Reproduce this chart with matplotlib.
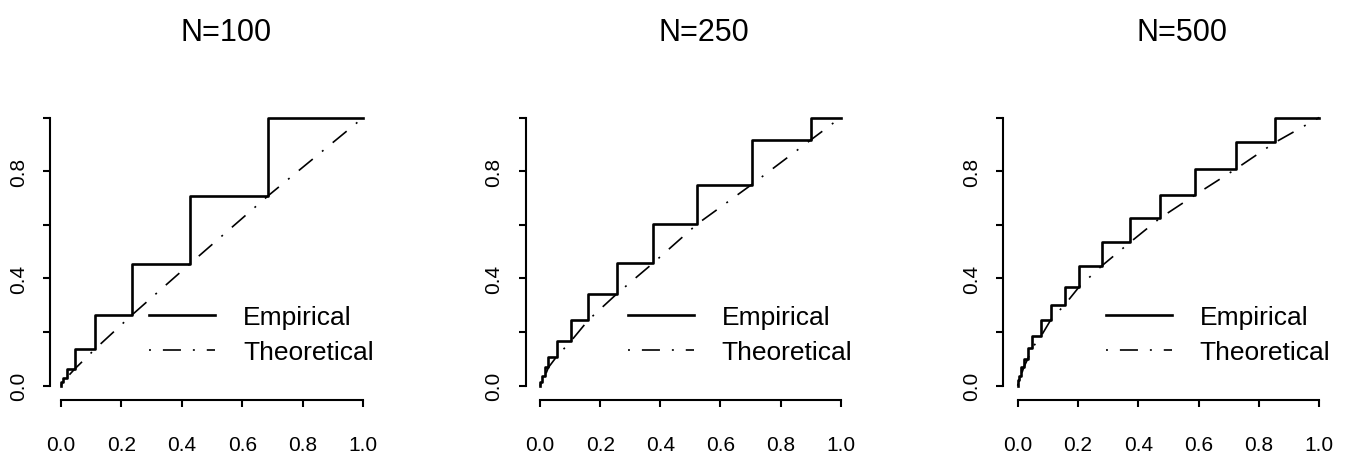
import matplotlib
matplotlib.use('Agg')
import matplotlib.pyplot as plt
import matplotlib.transforms as mtransforms

# data: corner points of the empirical step curve (x at jump, level just before it)
titles = ['N=100', 'N=250', 'N=500']

x100 = [0, 0.006, 0.019, 0.045, 0.113, 0.235, 0.427, 0.686, 1.0]
y100 = [0, 0.012, 0.030, 0.062, 0.137, 0.264, 0.455, 0.709, 1.0]

x250 = [0, 0.008, 0.017, 0.028, 0.055, 0.102, 0.161, 0.255, 0.375, 0.523, 0.704, 0.900, 1.0]
y250 = [0, 0.015, 0.037, 0.068, 0.108, 0.165, 0.245, 0.342, 0.456, 0.603, 0.750, 0.916, 1.0]

x500 = [0, 0.003, 0.011, 0.020, 0.033, 0.047, 0.077, 0.110, 0.156, 0.204, 0.279,
        0.373, 0.472, 0.588, 0.723, 0.853, 1.0]
y500 = [0, 0.020, 0.037, 0.068, 0.099, 0.139, 0.184, 0.246, 0.302, 0.369, 0.447,
        0.535, 0.625, 0.711, 0.808, 0.907, 1.0]

xs = [x100, x250, x500]
ys = [y100, y250, y500]

tick_vals = [0.0, 0.2, 0.4, 0.6, 0.8, 1.0]
xtick_labels = ['0.0', '0.2', '0.4', '0.6', '0.8', '1.0']
ytick_labels = ['0.0', '', '0.4', '', '0.8', '']

# styling
plt.rcParams['lines.scale_dashes'] = False
font = ['Liberation Sans', 'DejaVu Sans']

W, H = 1350, 460
fig = plt.figure(figsize=(W / 100, H / 100), dpi=100)

# pixel layout of each panel: x=0, x=1, y-axis line
px_layout = [(61, 363.3, 50), (540, 840.7, 525.7), (1017.7, 1319.3, 1003.3)]
y0_px, y1_px = 386.7, 118.5
xaxis_px = 401.0
yunit = y0_px - y1_px
ybot = -(xaxis_px - y0_px) / yunit
ytop = 1.04

dashdot = (0, (1.4, 8.6, 13, 8.6))

for i in range(3):
    x0, x1, yax = px_layout[i]
    xunit = x1 - x0
    right = x1 + 0.04 * xunit
    top_px = y0_px - ytop * yunit
    ax = fig.add_axes([yax / W, (H - xaxis_px) / H,
                       (right - yax) / W, (xaxis_px - top_px) / H])
    ax.set_xlim((yax - x0) / xunit, 1.04)
    ax.set_ylim(ybot, ytop)

    emp, = ax.step(xs[i], ys[i], where='pre', color='black', lw=1.9,
                   clip_on=False, label='Empirical')
    theo, = ax.plot(xs[i], ys[i], color='black', lw=1.2, linestyle=dashdot,
                    clip_on=False, label='Theoretical')

    for s in ['top', 'right']:
        ax.spines[s].set_visible(False)
    ax.spines['left'].set_bounds(0, 1)
    ax.spines['bottom'].set_bounds(0, 1)
    ax.spines['left'].set_linewidth(1.5)
    ax.spines['bottom'].set_linewidth(1.5)

    ax.set_xticks(tick_vals)
    ax.set_xticklabels(xtick_labels, fontsize=15, family=font)
    ax.set_yticks(tick_vals)
    ax.set_yticklabels(ytick_labels, fontsize=15, family=font,
                       rotation=90, va='center')
    ax.tick_params(axis='x', length=5, width=1.5, pad=20)
    ax.tick_params(axis='y', length=5, width=1.5, pad=11)

    ax.legend(handles=[emp, theo], loc='upper left', frameon=False,
              bbox_to_anchor=(0.292, 0.30), bbox_transform=ax.transData,
              prop={'family': font, 'size': 19},
              handlelength=2.5, handletextpad=1.05, labelspacing=0.4,
              borderpad=0, borderaxespad=0)

    trans = mtransforms.blended_transform_factory(ax.transData, fig.transFigure)
    ax.text(0.546, (H - 41) / H, titles[i], transform=trans, ha='center',
            va='baseline', fontsize=22, family=font)

fig.savefig('out.png', dpi=100)
